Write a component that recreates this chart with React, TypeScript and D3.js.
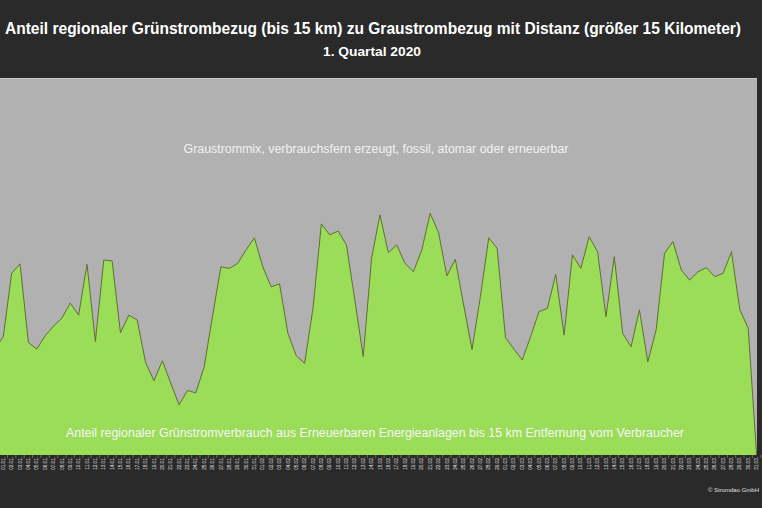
import { useEffect, useRef } from "react";
import * as d3 from "d3";

const W = 762;
const H = 508;

// daily dates, 31.12. (clipped, only sets the left edge) to 31.03.
const DAYS_IN_MONTH = [["12", 31, 31], ["01", 1, 31], ["02", 1, 29], ["03", 1, 31]] as const;
const dates: string[] = [];
DAYS_IN_MONTH.forEach(([m, from, to]) => {
  for (let d = from; d <= to; d++) dates.push(`${String(d).padStart(2, "0")}.${m}.`);
});

// share of regional green power in %
const shareJan = [
  28.1, 31.4, 48.2, 50.7, 29.8, 28.1, 31.6, 34.2, 36.3, 40.3, 37.1, 50.6, 30.1, 51.7, 51.5, 32.4,
  37.1, 35.8, 24.5, 19.7, 25.0, 19.1, 13.3, 17.1, 16.5, 23.4, 36.9, 49.9, 49.5, 50.8, 54.4, 57.6,
];
const shareFeb = [
  49.9, 44.6, 45.4, 32.3, 26.3, 24.3, 38.9, 61.3, 58.4, 59.4, 55.7, 41.1, 26.1, 52.2, 63.7, 53.7,
  55.7, 50.8, 48.6, 54.4, 64.1, 59.0, 47.5, 51.9, 39.8, 28.0, 42.0, 57.6, 54.8,
];
const shareMar = [
  31.1, 28.1, 25.2, 31.4, 38.0, 38.9, 47.9, 31.8, 53.1, 49.5, 57.9, 53.9, 36.7, 52.6, 32.3, 28.7,
  38.5, 24.7, 33.2, 53.5, 56.6, 49.1, 46.4, 48.6, 49.7, 47.3, 48.2, 53.9, 38.5, 33.6, 0,
];
const share = [...shareJan, ...shareFeb, ...shareMar];

const TITLE = "Anteil  regionaler Grünstrombezug (bis 15 km) zu Graustrombezug mit Distanz (größer 15 Kilometer)";
const SUBTITLE = "1. Quartal 2020";
const TOP_LABEL = "Graustrommix, verbrauchsfern erzeugt, fossil, atomar oder erneuerbar";
const BOTTOM_LABEL =
  "Anteil regionaler Grünstromverbrauch aus Erneuerbaren Energieanlagen bis 15 km Entfernung vom Verbraucher";

const plot = { left: 0, right: 757, top: 78, bottom: 455 };

export default function App() {
  const svgRef = useRef<SVGSVGElement>(null);

  useEffect(() => {
    const svg = d3.select(svgRef.current);
    svg.selectAll("*").remove();

    svg.append("rect").attr("width", W).attr("height", H).attr("fill", "#2a2a2a");

    const x = d3.scalePoint<string>().domain(dates).range([-5.07, 756.6]);
    const y = d3.scaleLinear().domain([0, 100]).range([plot.bottom, plot.top]);

    svg
      .append("defs")
      .append("clipPath")
      .attr("id", "plotClip")
      .append("rect")
      .attr("x", plot.left)
      .attr("y", plot.top)
      .attr("width", plot.right - plot.left)
      .attr("height", plot.bottom - plot.top);

    svg
      .append("rect")
      .attr("x", plot.left)
      .attr("y", plot.top)
      .attr("width", plot.right - plot.left)
      .attr("height", plot.bottom - plot.top)
      .attr("fill", "#b1b1b1");
    svg
      .append("line")
      .attr("x1", plot.left)
      .attr("x2", plot.right)
      .attr("y1", plot.top + 0.5)
      .attr("y2", plot.top + 0.5)
      .attr("stroke", "#c9c9c9");

    const g = svg.append("g").attr("clip-path", "url(#plotClip)");
    const pts = dates.map((d, i) => ({ d, v: share[i] }));

    const area = d3
      .area<{ d: string; v: number }>()
      .x((p) => x(p.d)!)
      .y0(y(0))
      .y1((p) => y(p.v));
    const line = d3
      .line<{ d: string; v: number }>()
      .x((p) => x(p.d)!)
      .y((p) => y(p.v));

    g.append("path").attr("d", area(pts)!).attr("fill", "#9bdc58");
    g.append("path")
      .attr("d", line(pts)!)
      .attr("fill", "none")
      .attr("stroke", "#5e7030")
      .attr("stroke-width", 1);

    // x axis: small ticks + rotated date labels (only those inside the plot)
    const visible = dates.filter((d) => x(d)! >= 0);
    const step = x.step();
    svg
      .append("g")
      .selectAll("line")
      .data(visible)
      .join("line")
      .attr("x1", (d) => x(d)! + step / 2)
      .attr("x2", (d) => x(d)! + step / 2)
      .attr("y1", plot.bottom)
      .attr("y2", plot.bottom + 3)
      .attr("stroke", "#6a6a6a");

    svg
      .append("g")
      .selectAll("text")
      .data(visible)
      .join("text")
      .attr("transform", (d) => `translate(${x(d)},${plot.bottom + 2}) rotate(-90)`)
      .attr("text-anchor", "end")
      .attr("dy", "0.35em")
      .attr("font-family", "Liberation Sans, Arial, sans-serif")
      .attr("font-size", "4.6px")
      .attr("fill", "#e6e6e6")
      .text((d) => d);

    // titles
    svg
      .append("text")
      .attr("x", 373)
      .attr("y", 34)
      .attr("text-anchor", "middle")
      .attr("font-family", "Liberation Sans Narrow, Arial Narrow, Liberation Sans, sans-serif")
      .attr("font-weight", "bold")
      .attr("font-size", "16px")
      .attr("fill", "#ffffff")
      .attr("textLength", 736)
      .attr("lengthAdjust", "spacingAndGlyphs")
      .text(TITLE);
    svg
      .append("text")
      .attr("x", 372)
      .attr("y", 56)
      .attr("text-anchor", "middle")
      .attr("font-family", "Liberation Sans Narrow, Arial Narrow, Liberation Sans, sans-serif")
      .attr("font-weight", "bold")
      .attr("font-size", "13px")
      .attr("fill", "#ffffff")
      .attr("textLength", 98)
      .attr("lengthAdjust", "spacingAndGlyphs")
      .text(SUBTITLE);

    // annotations inside the plot
    svg
      .append("text")
      .attr("x", 376)
      .attr("y", 152.5)
      .attr("text-anchor", "middle")
      .attr("font-family", "Liberation Sans, Arial, sans-serif")
      .attr("font-size", "12px")
      .attr("fill", "#f2f2f2")
      .attr("textLength", 385)
      .attr("lengthAdjust", "spacingAndGlyphs")
      .text(TOP_LABEL);
    svg
      .append("text")
      .attr("x", 375)
      .attr("y", 437)
      .attr("text-anchor", "middle")
      .attr("font-family", "Liberation Sans, Arial, sans-serif")
      .attr("font-size", "12px")
      .attr("fill", "#f6f6f6")
      .attr("textLength", 618)
      .attr("lengthAdjust", "spacingAndGlyphs")
      .text(BOTTOM_LABEL);

    svg
      .append("text")
      .attr("x", 759)
      .attr("y", 492)
      .attr("text-anchor", "end")
      .attr("font-family", "Liberation Sans, Arial, sans-serif")
      .attr("font-size", "6px")
      .attr("fill", "#e0e0e0")
      .text("© Stromdao GmbH");
  }, []);

  return (
    <svg
      ref={svgRef}
      width={W}
      height={H}
      style={{ position: "absolute", left: 0, top: 0, display: "block" }}
    />
  );
}
